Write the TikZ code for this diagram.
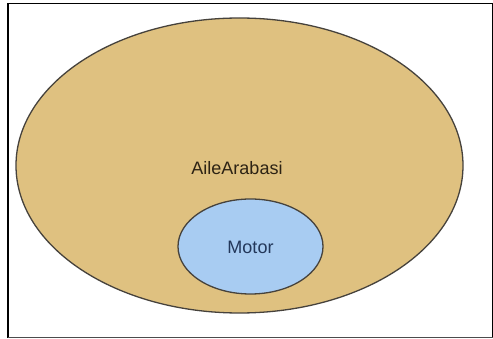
\documentclass[tikz,border=0pt]{standalone}
\usepackage{fontspec}
\setmainfont{Liberation Sans}
\usetikzlibrary{shapes.geometric}
\definecolor{tan}{RGB}{223,193,128}
\definecolor{sky}{RGB}{168,204,242}
\definecolor{edge}{RGB}{70,66,60}
\definecolor{motortext}{RGB}{35,55,90}
\definecolor{outertext}{RGB}{45,35,20}
\begin{document}
\begin{tikzpicture}[x=1pt,y=-1pt,
  blob/.style={draw=edge,line width=1.3pt}]
\useasboundingbox (0,0) rectangle (493,339);
\fill[white] (0,0) rectangle (493,339);
\draw[line width=1.6pt,black] (8,3.5) -- (8,338) (8,3.5) -- (492.5,3.5) -- (492.5,338);
\draw[line width=1.2pt,black!70] (8,337.5) -- (492.5,337.5);
\draw[blob,fill=tan] (239.5,165.5) ellipse [x radius=223.5, y radius=147.5];
\node[font=\fontsize{18}{21}\selectfont,text=outertext] (aile) at (237,168) {AileArabasi};
\draw[blob,fill=sky] (250.5,246.5) ellipse [x radius=72.5, y radius=47.5];
\node[font=\fontsize{18}{21}\selectfont,text=motortext] (motor) at (250.5,247) {Motor};
\end{tikzpicture}
\end{document}
